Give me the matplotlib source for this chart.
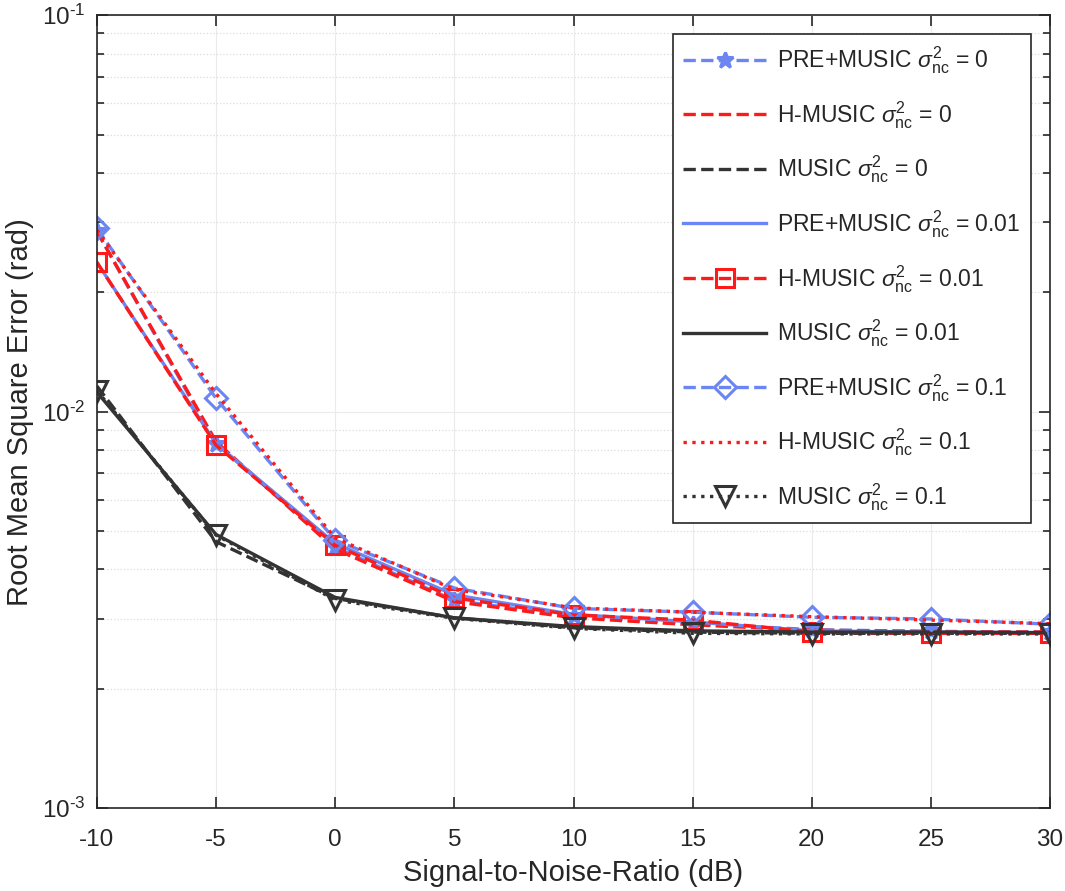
import numpy as np
import matplotlib
matplotlib.use('Agg')
import matplotlib.pyplot as plt
from matplotlib.ticker import FixedLocator, FixedFormatter

plt.rcParams['font.family'] = ['Liberation Sans', 'DejaVu Sans']
plt.rcParams['mathtext.fontset'] = 'custom'
plt.rcParams['mathtext.rm'] = 'Liberation Sans'
plt.rcParams['mathtext.it'] = 'Liberation Sans:italic'

snr = [-10, -5, 0, 5, 10, 15, 20, 25, 30]

pre_0 = [0.0285, 0.0083, 0.00455, 0.00334, 0.00305, 0.00292, 0.00282, 0.00279, 0.00278]
h_0 = [0.0285, 0.0084, 0.00450, 0.00332, 0.00302, 0.00290, 0.00281, 0.00279, 0.00278]
music_0 = [0.0116, 0.0047, 0.00338, 0.00302, 0.00285, 0.00278, 0.00276, 0.00276, 0.00276]
pre_001 = [0.0238, 0.0083, 0.00465, 0.00345, 0.00308, 0.00295, 0.00280, 0.00278, 0.00277]
h_001 = [0.0238, 0.00823, 0.00460, 0.00339, 0.00307, 0.00298, 0.00278, 0.00276, 0.00276]
music_001 = [0.0112, 0.0049, 0.00340, 0.00302, 0.00287, 0.00280, 0.00278, 0.00278, 0.00277]
pre_01 = [0.0290, 0.0108, 0.00474, 0.00359, 0.00319, 0.00312, 0.00303, 0.00300, 0.00291]
h_01 = [0.0287, 0.0111, 0.00480, 0.00356, 0.00320, 0.00312, 0.00304, 0.00298, 0.00292]
music_01 = [0.0113, 0.00488, 0.00335, 0.00301, 0.00284, 0.00276, 0.00275, 0.00275, 0.00275]

ytick_vals = [1e-3, 1e-2, 1e-1]
ytick_labels = ['$10^{\u20103}$', '$10^{\u20102}$', '$10^{\u20101}$']

BLUE = '#6b86f2'
RED = '#ff1a1a'
BLACK = '#333333'
TXT = '#262626'

sig = '$\\sigma_{\\mathrm{nc}}^{2}$'
series = [
    (pre_0, BLUE, '--', '*', 'PRE+MUSIC ' + sig + ' = 0'),
    (h_0, RED, '--', None, 'H-MUSIC ' + sig + ' = 0'),
    (music_0, BLACK, '--', None, 'MUSIC ' + sig + ' = 0'),
    (pre_001, BLUE, '-', None, 'PRE+MUSIC ' + sig + ' = 0.01'),
    (h_001, RED, '--', 's', 'H-MUSIC ' + sig + ' = 0.01'),
    (music_001, BLACK, '-', None, 'MUSIC ' + sig + ' = 0.01'),
    (pre_01, BLUE, '--', 'D', 'PRE+MUSIC ' + sig + ' = 0.1'),
    (h_01, RED, ':', None, 'H-MUSIC ' + sig + ' = 0.1'),
    (music_01, BLACK, ':', 'v', 'MUSIC ' + sig + ' = 0.1'),
]
MSIZE = {'*': 12, 's': 13, 'D': 11, 'v': 14, None: 6}

fig = plt.figure(figsize=(10.65, 8.91), dpi=100)
ax = fig.add_axes([0.091, 0.093, 0.895, 0.89])

for ys, color, ls, mk, label in series:
    ax.plot(snr, ys, color=color, linestyle=ls, marker=mk, markersize=MSIZE[mk],
            markerfacecolor=color if mk == '*' else 'none',
            markeredgewidth=2.2, linewidth=2.4, label=label)

ax.set_yscale('log')
ax.set_xlim(-10, 30)
ax.set_ylim(1e-3, 1e-1)
ax.set_xticks(snr)
ax.set_xticklabels([str(s) for s in snr])
ax.yaxis.set_major_locator(FixedLocator(ytick_vals))
ax.yaxis.set_major_formatter(FixedFormatter(ytick_labels))

ax.grid(True, which='major', axis='x', color='#ebebeb', linestyle='-', linewidth=0.8)
ax.grid(True, which='major', axis='y', color='#ebebeb', linestyle='-', linewidth=0.8)
ax.grid(True, which='minor', axis='y', color='#dcdcdc', linestyle=':', linewidth=0.9)
ax.set_axisbelow(True)

ax.tick_params(which='both', direction='in', top=True, right=True, colors=TXT,
               labelsize=17.5, width=1.2)
ax.tick_params(which='major', length=8)
ax.tick_params(axis='x', which='major', pad=15)
ax.tick_params(axis='y', which='major', pad=8)
ax.tick_params(which='minor', length=5)
for sp in ax.spines.values():
    sp.set_color(TXT)
    sp.set_linewidth(1.2)

ax.set_xlabel('Signal-to-Noise-Ratio (dB)', fontsize=21, color=TXT, labelpad=6)
ax.set_ylabel('Root Mean Square Error (rad)', fontsize=21, color=TXT, labelpad=6)

leg = ax.legend(loc='upper right', fontsize=16.5, handlelength=3.6, labelspacing=1.0,
                borderpad=0.45, handletextpad=0.5, fancybox=False, framealpha=1,
                borderaxespad=0.83)
leg.get_frame().set_edgecolor(TXT)
leg.get_frame().set_linewidth(1.2)
for t in leg.get_texts():
    t.set_color(TXT)

fig.savefig('out.png', dpi=100)
